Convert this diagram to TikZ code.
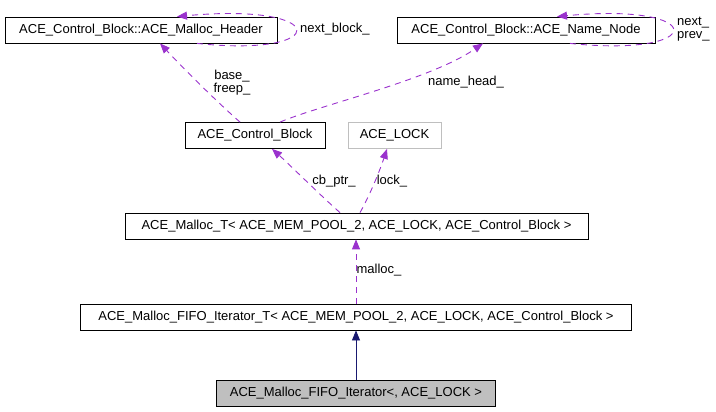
\documentclass[tikz,border=0pt]{standalone}
\usepackage{fontspec}
\setmainfont{Liberation Sans}
\usetikzlibrary{arrows.meta}

\definecolor{usepurple}{HTML}{9A32CD}
\definecolor{inhnavy}{HTML}{191970}
\definecolor{boxgray}{HTML}{BFBFBF}

\begin{document}
\begin{tikzpicture}[x=1pt,y=-1pt,>={Triangle[length=10pt,width=8pt]},
  class node/.style={rectangle,draw=black,line width=0.8pt,inner sep=0pt,minimum height=26pt,font=\fontsize{13}{15}\selectfont},
  lbl/.style={inner sep=0pt,font=\fontsize{13}{15}\selectfont,align=left},
  use edge/.style={->,color=usepurple,line width=0.9pt,dash pattern=on 6pt off 5pt},
  inh edge/.style={->,color=inhnavy,line width=0.8pt}]

            \useasboundingbox (0,0) rectangle (716,412);

            % classes
            \node[class node,minimum width=272pt] (header) at (141,30) {ACE\_Control\_Block::ACE\_Malloc\_Header};
            \node[class node,minimum width=258pt] (name) at (526,30) {ACE\_Control\_Block::ACE\_Name\_Node};
            \node[class node,minimum width=140pt] (cb) at (255,135.5) {ACE\_Control\_Block};
            \node[class node,minimum width=93pt,draw=boxgray] (lock) at (394.5,135.5) {ACE\_LOCK};
            \node[class node,minimum width=463pt] (malloc) at (356.5,226) {ACE\_Malloc\_T< ACE\_MEM\_POOL\_2, ACE\_LOCK, ACE\_Control\_Block >};
            \node[class node,minimum width=551pt] (iterT) at (356,317) {ACE\_Malloc\_FIFO\_Iterator\_T< ACE\_MEM\_POOL\_2, ACE\_LOCK, ACE\_Control\_Block >};
            \node[class node,minimum width=279pt,fill=boxgray] (iter) at (356,393) {ACE\_Malloc\_FIFO\_Iterator<, ACE\_LOCK >};

            % labels
            \node[lbl,anchor=west] (l1) at (300,29) {next\_block\_};
            \node[lbl,anchor=west] (l2) at (677,29.5) {next\_\\[-2pt]prev\_};
            \node[lbl,align=center] (l3) at (232,83) {base\_\\[-2pt]freep\_};
            \node[lbl] (l4) at (466,82) {name\_head\_};
            \node[lbl] (l5) at (334,181) {cb\_ptr\_};
            \node[lbl] (l6) at (392,181) {lock\_};
            \node[lbl] (l7) at (379,270) {malloc\_};

            % connectors
            \draw[use edge] ([xshift=56pt]header.south) .. controls (332,58) and (332,2) .. ([xshift=36pt]header.north);
            \draw[use edge] ([xshift=44pt]name.south) .. controls (709,58) and (709,2) .. ([xshift=31pt]name.north);
            \draw[use edge] ([xshift=-15pt]cb.north) .. controls (215,100) and (185,70) .. ([xshift=19pt]header.south);
            \draw[use edge] ([xshift=25pt]cb.north) .. controls (320,105) and (430,80) .. ([xshift=-43pt]name.south);
            \draw[use edge] ([xshift=-16.5pt]malloc.north) .. controls (320,195) and (290,165) .. ([xshift=17pt]cb.south);
            \draw[use edge] ([xshift=3.5pt]malloc.north) .. controls (370,195) and (380,170) .. ([xshift=-7.5pt]lock.south);
            \draw[use edge] (iterT.north) -- (iterT.north |- malloc.south);
            \draw[inh edge] (iter.north) -- (iter.north |- iterT.south);
        \end{tikzpicture}
\end{document}
